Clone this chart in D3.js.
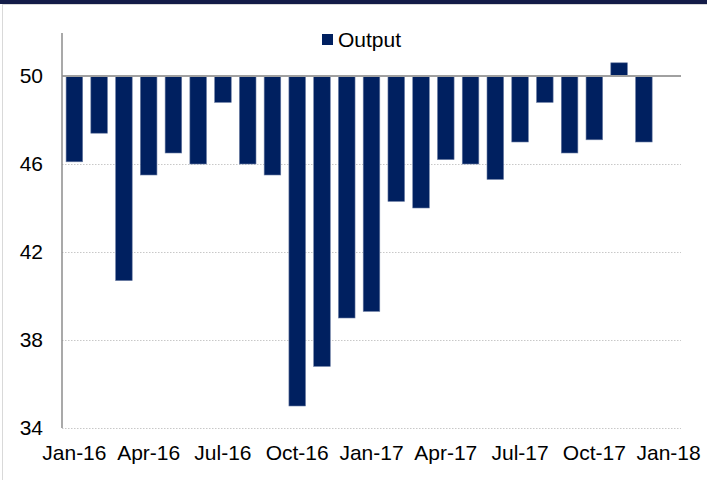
<!DOCTYPE html>
<html>
<head>
<meta charset="utf-8">
<script src="https://cdn.jsdelivr.net/npm/d3@7"></script>
<style>
  html, body { margin: 0; padding: 0; background: #fff; }
  svg { display: block; font-family: "Liberation Sans", Arial, sans-serif; }
</style>
</head>
<body>
<svg id="chart" width="707" height="480"></svg>
<script>
const categories = ["Jan-16","Feb-16","Mar-16","Apr-16","May-16","Jun-16","Jul-16","Aug-16","Sep-16","Oct-16","Nov-16","Dec-16",
                    "Jan-17","Feb-17","Mar-17","Apr-17","May-17","Jun-17","Jul-17","Aug-17","Sep-17","Oct-17","Nov-17","Dec-17","Jan-18"];
const outputValues = [46.1, 47.4, 40.7, 45.5, 46.5, 46.0, 48.8, 46.0, 45.5, 35.0, 36.8, 39.0,
                      39.3, 44.3, 44.0, 46.2, 46.0, 45.3, 47.0, 48.8, 46.5, 47.1, 50.6, 47.0];
const seriesName = "Output";
const yTicks = [34, 38, 42, 46, 50];
const xTickLabels = ["Jan-16","Apr-16","Jul-16","Oct-16","Jan-17","Apr-17","Jul-17","Oct-17","Jan-18"];
const baseValue = 50;

(function () {
const svg = d3.select("#chart");
const W = 707, H = 480;
const mLeft = 62, mRight = 681, mTop = 32, mBottom = 428;
const fontSize = 21;

// frame
svg.append("rect").attr("x", 0).attr("y", 0).attr("width", W).attr("height", 4).attr("fill", "#141c48");
svg.append("line").attr("x1", 2).attr("x2", W).attr("y1", 4.5).attr("y2", 4.5).attr("stroke", "#d9d9d9").attr("stroke-width", 1);
svg.append("line").attr("x1", 2.5).attr("x2", 2.5).attr("y1", 4).attr("y2", H).attr("stroke", "#d9d9d9").attr("stroke-width", 1);

const x = d3.scaleBand().domain(categories).range([mLeft, mRight]).paddingInner(0.33).paddingOuter(0.165);
const y = d3.scaleLinear().domain([34, 52]).range([mBottom, mTop]);

// gridlines
svg.append("g").selectAll("line").data(yTicks).join("line")
  .attr("x1", mLeft).attr("x2", mRight)
  .attr("y1", d => y(d) + 0.5).attr("y2", d => y(d) + 0.5)
  .attr("stroke", "#c8c8c8").attr("stroke-width", 1).attr("stroke-dasharray", "1.5,1.5");

// bars
const data = outputValues.map((v, i) => ({ c: categories[i], v }));
svg.append("g").selectAll("rect").data(data).join("rect")
  .attr("x", d => x(d.c))
  .attr("width", x.bandwidth())
  .attr("y", d => Math.min(y(d.v), y(baseValue)))
  .attr("height", d => Math.abs(y(d.v) - y(baseValue)))
  .attr("fill", "#002060")
  .attr("stroke", "#6a7ca3").attr("stroke-width", 0.6);

// base line at 50
svg.append("line").attr("x1", mLeft).attr("x2", mRight)
  .attr("y1", y(baseValue)).attr("y2", y(baseValue))
  .attr("stroke", "#a0a0a0").attr("stroke-width", 2);

// y axis
const yAxis = d3.axisLeft(y).tickValues(yTicks).tickSize(0).tickPadding(19).tickFormat(d3.format("d"));
const gy = svg.append("g").attr("transform", `translate(${mLeft},0)`).call(yAxis);
gy.select(".domain").remove();
gy.selectAll("text").attr("font-size", fontSize).attr("fill", "#000").attr("font-family", "Liberation Sans, Arial, sans-serif");
svg.append("line").attr("x1", mLeft).attr("x2", mLeft).attr("y1", mTop + 1).attr("y2", mBottom)
  .attr("stroke", "#8c8c8c").attr("stroke-width", 1.5);

// x axis labels
const xAxis = d3.axisBottom(x).tickValues(xTickLabels).tickSize(0).tickPadding(17);
const gx = svg.append("g").attr("transform", `translate(0,${mBottom})`).call(xAxis);
gx.select(".domain").remove();
gx.selectAll("text").attr("font-size", fontSize).attr("fill", "#000").attr("font-family", "Liberation Sans, Arial, sans-serif");

// legend
const lg = svg.append("g").attr("transform", "translate(322,34)");
lg.append("rect").attr("width", 11).attr("height", 11).attr("fill", "#002060");
lg.append("text").attr("x", 16).attr("y", 12.5).attr("font-size", fontSize).attr("fill", "#000").text(seriesName);
})();
</script>
</body>
</html>
